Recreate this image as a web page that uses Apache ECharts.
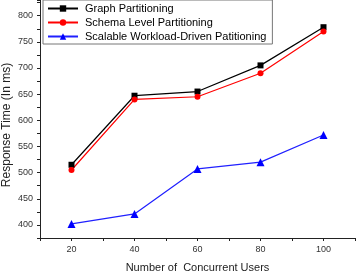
<!DOCTYPE html>
<html>
<head>
<meta charset="utf-8">
<script src="https://cdn.jsdelivr.net/npm/echarts@6/dist/echarts.min.js"></script>
<style>
html,body{margin:0;padding:0;background:#fff;}
#main{width:357px;height:272px;}
</style>
</head>
<body>
<div id="main"></div>
<script>
// 数据
var users = [20, 40, 60, 80, 100];
var graphPart = [515, 647, 655, 705, 778];
var schemaPart = [505, 640, 645, 690, 770];
var scalablePart = [402, 421, 507, 520, 572];

function pairs(arr) {
    return users.map(function (u, i) { return [u, arr[i]]; });
}

var chart = echarts.init(document.getElementById('main'));
var font = 'Liberation Sans, Arial, sans-serif';

chart.setOption({
    animation: false,
    textStyle: { fontFamily: font },
    grid: { left: 40, right: 2, top: 0, bottom: 34, containLabel: false, outerBoundsMode: 'none' },
    legend: {
        orient: 'vertical',
        left: 43,
        top: 0,
        padding: [3, 6, 2, 4],
        itemGap: 3,
        itemWidth: 30,
        itemHeight: 8,
        borderColor: '#777',
        borderWidth: 1,
        backgroundColor: '#fff',
        textStyle: { fontFamily: font, fontSize: 11, color: '#000', padding: [0, 0, 0, 2] },
        data: ['Graph Partitioning', 'Schema Level Partitioning', 'Scalable Workload-Driven Patitioning']
    },
    xAxis: {
        type: 'value',
        min: 10,
        max: 110,
        interval: 10,
        name: 'Number of  Concurrent Users',
        nameLocation: 'middle',
        nameGap: 24,
        nameMoveOverlap: false,
        nameTextStyle: { fontFamily: font, fontSize: 11, color: '#222' },
        axisLine: { lineStyle: { color: '#222', width: 1 } },
        axisTick: { length: 3, lineStyle: { color: '#222' } },
        splitLine: { show: false },
        axisLabel: {
            fontSize: 9, color: '#333', margin: 7,
            formatter: function (v) { return (v % 20 === 0 && v >= 20 && v <= 100) ? v : ''; }
        }
    },
    yAxis: {
        type: 'value',
        min: 375,
        max: 830,
        interval: 25,
        name: 'Response Time (In ms)',
        nameLocation: 'middle',
        nameGap: 27,
        nameMoveOverlap: false,
        nameTextStyle: { fontFamily: font, fontSize: 12, color: '#222', padding: [0, 12, 0, 0] },
        axisLine: { show: true, lineStyle: { color: '#222', width: 1 } },
        axisTick: { show: true, length: 3, lineStyle: { color: '#222' } },
        splitLine: { show: false },
        axisLabel: {
            fontSize: 9, color: '#333', margin: 7,
            formatter: function (v) { return v % 50 === 0 ? v : ''; }
        }
    },
    series: [
        {
            name: 'Graph Partitioning',
            type: 'line',
            data: pairs(graphPart),
            symbol: 'rect',
            symbolSize: 6,
            itemStyle: { color: '#000' },
            lineStyle: { color: '#000', width: 1.2 }
        },
        {
            name: 'Schema Level Partitioning',
            type: 'line',
            data: pairs(schemaPart),
            symbol: 'circle',
            symbolSize: 6,
            itemStyle: { color: '#ff0000' },
            lineStyle: { color: '#ff0000', width: 1.2 }
        },
        {
            name: 'Scalable Workload-Driven Patitioning',
            type: 'line',
            data: pairs(scalablePart),
            symbol: 'triangle',
            symbolSize: 8,
            itemStyle: { color: '#0000ff' },
            lineStyle: { color: '#2020ff', width: 1.2 }
        }
    ]
});
</script>
</body>
</html>
